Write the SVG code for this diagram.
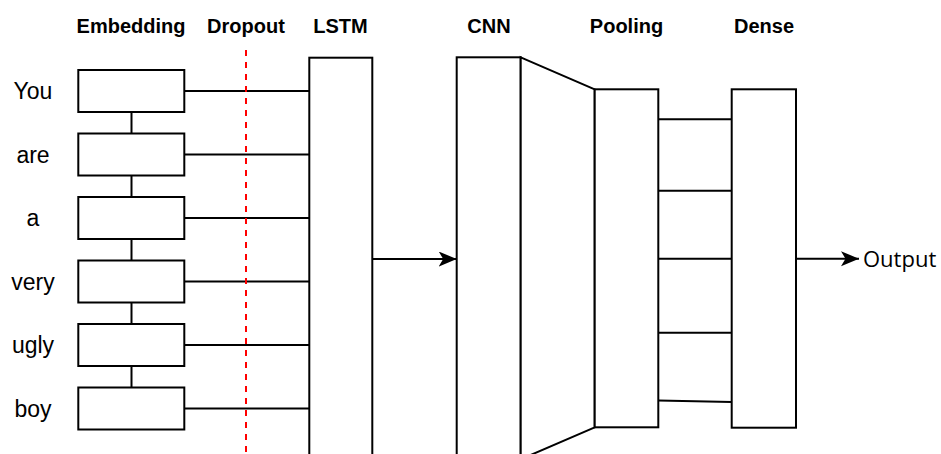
<svg xmlns="http://www.w3.org/2000/svg" width="941" height="454" viewBox="0 0 941 454">
<style>
.box{fill:#fff;stroke:#000;stroke-width:2}
.ln{fill:none;stroke:#000;stroke-width:2}
.title{font-family:"Liberation Sans",Arial,sans-serif;font-weight:bold;font-size:20px;text-anchor:middle;fill:#000}
.word{font-family:"Liberation Sans",Arial,sans-serif;font-size:23px;text-anchor:middle;fill:#000}
.out{font-family:"Open Sans","Liberation Sans",sans-serif;font-size:22px;fill:#000}
</style>
<defs>
<marker id="arr" markerUnits="userSpaceOnUse" markerWidth="20" markerHeight="16" refX="18" refY="7.5" orient="auto">
<path d="M0,0 L18,7.5 L0,15 L4.5,7.5 Z" fill="#000"/>
</marker>
</defs>
<g id="titles">
<text class="title" x="131" y="33">Embedding</text>
<text class="title" x="246" y="33">Dropout</text>
<text class="title" x="340.5" y="33">LSTM</text>
<text class="title" x="489" y="33">CNN</text>
<text class="title" x="626.5" y="33">Pooling</text>
<text class="title" x="764" y="33">Dense</text>
</g>
<g id="words">
<text class="word" x="33" y="99">You</text>
<text class="word" x="33" y="162.5">are</text>
<text class="word" x="33" y="226">a</text>
<text class="word" x="33" y="289.5">very</text>
<text class="word" x="33" y="353">ugly</text>
<text class="word" x="33" y="416.5">boy</text>
</g>
<g id="connectors">
<line class="ln" x1="131.5" y1="112" x2="131.5" y2="133.5"/>
<line class="ln" x1="131.5" y1="175.5" x2="131.5" y2="197"/>
<line class="ln" x1="131.5" y1="239" x2="131.5" y2="260.5"/>
<line class="ln" x1="131.5" y1="302.5" x2="131.5" y2="324"/>
<line class="ln" x1="131.5" y1="366" x2="131.5" y2="387.5"/>
<line class="ln" x1="184.3" y1="91" x2="309.3" y2="91"/>
<line class="ln" x1="184.3" y1="154.5" x2="309.3" y2="154.5"/>
<line class="ln" x1="184.3" y1="218" x2="309.3" y2="218"/>
<line class="ln" x1="184.3" y1="281.5" x2="309.3" y2="281.5"/>
<line class="ln" x1="184.3" y1="345" x2="309.3" y2="345"/>
<line class="ln" x1="184.3" y1="408.5" x2="309.3" y2="408.5"/>
<line class="ln" x1="372.3" y1="259" x2="456.7" y2="259" marker-end="url(#arr)"/>
<line class="ln" x1="658.3" y1="119.3" x2="731.7" y2="119.3"/>
<line class="ln" x1="658.3" y1="190.7" x2="731.7" y2="190.7"/>
<line class="ln" x1="658.3" y1="258.7" x2="731.7" y2="258.7"/>
<line class="ln" x1="658.3" y1="332.7" x2="731.7" y2="332.7"/>
<line class="ln" x1="658.3" y1="400.5" x2="731.7" y2="402"/>
<line class="ln" x1="796" y1="258.7" x2="859" y2="258.7" marker-end="url(#arr)"/>
</g>
<g id="dropout">
<line x1="246" y1="50" x2="246" y2="454" stroke="#FF0000" stroke-width="2" stroke-dasharray="6 6"/>
</g>
<g id="embedding">
<rect class="box" x="78.3" y="70" width="106" height="42"/>
<rect class="box" x="78.3" y="133.5" width="106" height="42"/>
<rect class="box" x="78.3" y="197" width="106" height="42"/>
<rect class="box" x="78.3" y="260.5" width="106" height="42"/>
<rect class="box" x="78.3" y="324" width="106" height="42"/>
<rect class="box" x="78.3" y="387.5" width="106" height="42"/>
</g>
<g id="lstm">
<rect class="box" x="309.3" y="57.7" width="63" height="402"/>
</g>
<g id="cnn">
<rect class="box" x="456.7" y="57.3" width="64" height="402"/>
<polygon class="box" points="520.7,57.3 594.7,89.3 594.7,427.3 520.7,459.3"/>
</g>
<g id="pooling">
<rect class="box" x="594.7" y="89.3" width="63.6" height="338"/>
</g>
<g id="dense">
<rect class="box" x="731.7" y="89.3" width="64.3" height="338.4"/>
</g>
<g id="output">
<text class="out" x="863" y="266.5">Output</text>
</g>
</svg>
